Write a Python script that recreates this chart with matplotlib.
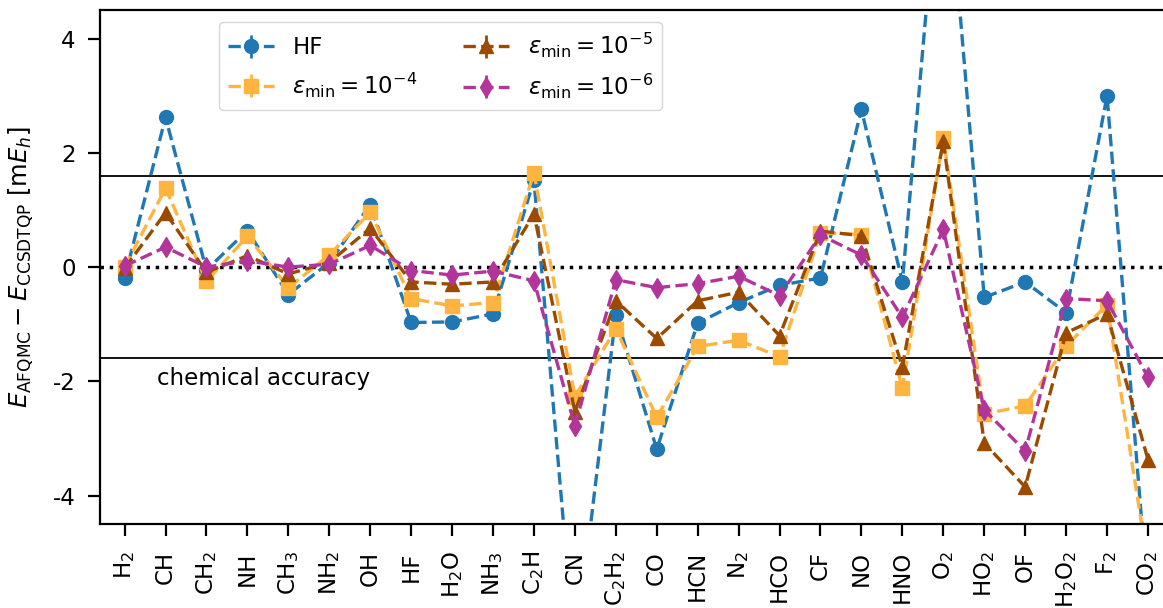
#!/usr/bin/env python
"""AFQMC energy errors against CCSDTQP for the small-molecule test set."""

from __future__ import annotations

import matplotlib

matplotlib.use("Agg")
import matplotlib.pyplot as plt
import numpy as np


MOLECULES = [
    "H$_2$", "CH", "CH$_2$", "NH", "CH$_3$", "NH$_2$", "OH", "HF", "H$_2$O", "NH$_3$",
    "C$_2$H", "CN", "C$_2$H$_2$", "CO", "HCN", "N$_2$", "HCO", "CF", "NO", "HNO",
    "O$_2$", "HO$_2$", "OF", "H$_2$O$_2$", "F$_2$", "CO$_2$",
]

# errors in mE_h, one entry per molecule
ERR_HF = [
    -0.19, 2.62, -0.05, 0.64, -0.48, 0.08, 1.09, -0.97, -0.96, -0.82,
    1.52, -6.80, -0.84, -3.19, -0.98, -0.62, -0.32, -0.19, 2.76, -0.26,
    7.90, -0.53, -0.26, -0.80, 3.00, -5.80,
]
ERR_EPS4 = [
    0.00, 1.38, -0.25, 0.54, -0.36, 0.21, 0.96, -0.55, -0.68, -0.62,
    1.65, -2.27, -1.08, -2.63, -1.39, -1.28, -1.57, 0.60, 0.57, -2.12,
    2.26, -2.57, -2.43, -1.38, -0.66, -5.20,
]
ERR_EPS5 = [
    -0.02, 0.95, -0.09, 0.20, -0.12, 0.08, 0.68, -0.26, -0.30, -0.26,
    0.93, -2.53, -0.59, -1.25, -0.59, -0.44, -1.20, 0.63, 0.55, -1.75,
    2.20, -3.08, -3.85, -1.15, -0.82, -3.37,
]
ERR_EPS6 = [
    0.02, 0.35, 0.00, 0.11, 0.00, 0.05, 0.38, -0.06, -0.14, -0.07,
    -0.24, -2.78, -0.22, -0.36, -0.29, -0.16, -0.50, 0.56, 0.21, -0.88,
    0.66, -2.50, -3.22, -0.55, -0.59, -1.93,
]
STAT_ERR = 0.05  # AFQMC statistical error bar
CHEM_ACC = 1.6

SERIES = [
    ("HF", ERR_HF, "o", "#1f77b4"),
    (r"$\varepsilon_{\rm min} = 10^{-4}$", ERR_EPS4, "s", "#FFB440"),
    (r"$\varepsilon_{\rm min} = 10^{-5}$", ERR_EPS5, "^", "#9A4B00"),
    (r"$\varepsilon_{\rm min} = 10^{-6}$", ERR_EPS6, "d", "#B2359B"),
]


def main() -> None:
    plt.rcParams["font.size"] = 16.5
    plt.rcParams["axes.unicode_minus"] = False

    fig = plt.figure(figsize=(11.63, 6.08), dpi=100)
    ax = fig.add_axes([0.086, 0.138, 0.9222, 0.8454])
    x = np.arange(len(MOLECULES))

    ax.axhline(0, color="black", ls=":", lw=2.5, zorder=1)
    ax.axhline(CHEM_ACC, color="black", lw=1.3, zorder=1)
    ax.axhline(-CHEM_ACC, color="black", lw=1.3, zorder=1)

    for label, vals, marker, color in SERIES:
        ax.errorbar(
            x, vals, yerr=STAT_ERR, fmt="--" + marker, color=color,
            lw=2.4, markersize=10, elinewidth=2, label=label, zorder=2,
        )

    ax.text(0.8, -1.95, "chemical accuracy", fontsize=16.5, va="center", ha="left")

    ax.set_xlim(-0.6, 25.6)
    ax.set_ylim(-4.5, 4.5)
    ax.set_xticks(x, MOLECULES, rotation=90)
    ax.set_yticks([-4, -2, 0, 2, 4])
    ax.set_ylabel(r"$E_{\rm AFQMC} - E_{\rm CCSDTQP}$ [m$E_h$]", fontsize=17.5, labelpad=12)
    ax.tick_params(length=8.5, width=1.6, labelsize=16.5)
    ax.tick_params(axis="x", pad=11)
    ax.tick_params(axis="y", pad=9)
    for spine in ax.spines.values():
        spine.set_linewidth(1.6)

    ax.legend(
        ncol=2, loc="upper left", bbox_to_anchor=(0.111, 0.977), borderaxespad=0,
        fontsize=16.5,
    )

    fig.savefig("out.png", dpi=100, facecolor="white")
    plt.close(fig)


if __name__ == "__main__":
    main()
